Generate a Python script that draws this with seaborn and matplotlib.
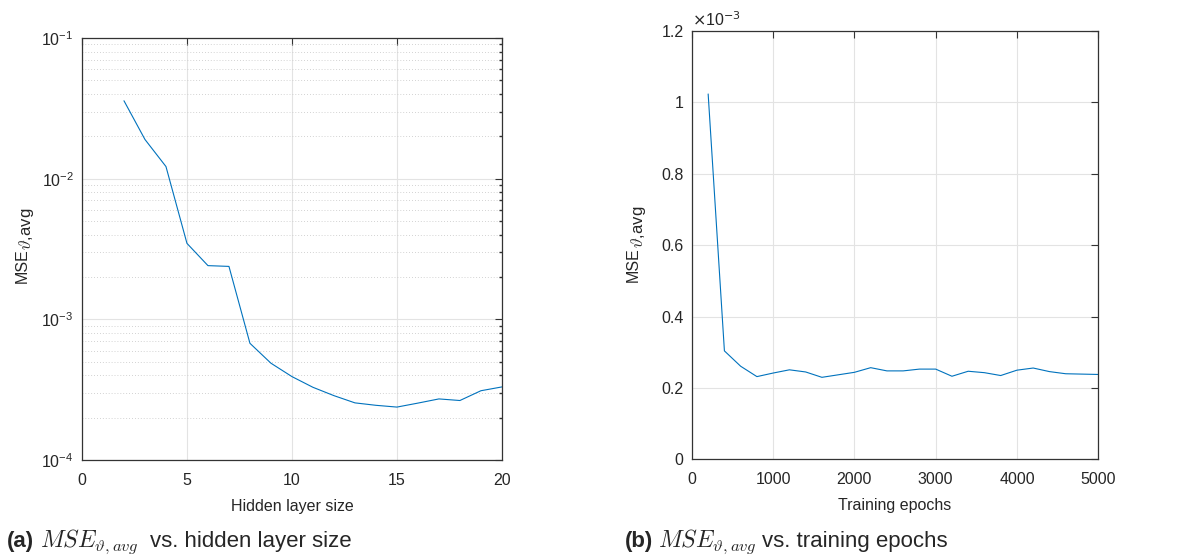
import numpy as np
import pandas as pd
import matplotlib
matplotlib.use("Agg")
import matplotlib.pyplot as plt
import matplotlib.ticker as mticker
from matplotlib.text import Annotation
import seaborn as sns

# ---- data ----
hidden_sizes = [2, 3, 4, 5, 6, 7, 8, 9, 10, 11, 12, 13, 14, 15, 16, 17, 18, 19, 20]
mse_hidden = [0.0358, 0.0190, 0.0122, 0.00347, 0.00241, 0.00238, 0.000676, 0.000488,
              0.000392, 0.000329, 0.000287, 0.000255, 0.000245, 0.000238, 0.000254,
              0.000272, 0.000265, 0.000311, 0.000331]

epochs = [200, 400, 600, 800, 1000, 1200, 1400, 1600, 1800, 2000, 2200, 2400, 2600,
          2800, 3000, 3200, 3400, 3600, 3800, 4000, 4200, 4400, 4600, 4800, 5000]
mse_epochs_e3 = [1.023, 0.304, 0.261, 0.232, 0.242, 0.251, 0.245, 0.230, 0.237, 0.244,
                 0.257, 0.248, 0.248, 0.253, 0.253, 0.233, 0.247, 0.243, 0.235, 0.250,
                 0.256, 0.246, 0.240, 0.239, 0.238]

x_ticks_a = [0, 5, 10, 15, 20]
x_ticks_b = [0, 1000, 2000, 3000, 4000, 5000]
y_ticks_b = [0, 0.2e-3, 0.4e-3, 0.6e-3, 0.8e-3, 1.0e-3, 1.2e-3]

df_a = pd.DataFrame({"hidden": hidden_sizes, "mse": mse_hidden})
df_b = pd.DataFrame({"epochs": epochs, "mse": np.array(mse_epochs_e3) * 1e-3})

# ---- style ----
sns.set_theme(style="white")
txt = "#262626"
grid_c = "#e3e3e3"
line_c = "#0072BD"
plt.rcParams.update({
    "font.family": ["Liberation Sans", "DejaVu Sans"],
    "axes.edgecolor": "#333333",
    "axes.labelcolor": txt,
    "xtick.color": "#333333",
    "ytick.color": "#333333",
    "xtick.labelcolor": txt,
    "ytick.labelcolor": txt,
    "text.color": txt,
    "axes.linewidth": 0.9,
    "xtick.direction": "in",
    "ytick.direction": "in",
    "xtick.major.size": 5,
    "ytick.major.size": 5,
    "xtick.minor.size": 2.5,
    "ytick.minor.size": 2.5,
    "xtick.major.width": 0.8,
    "ytick.major.width": 0.8,
    "axes.unicode_minus": False,
})

fig = plt.figure(figsize=(11.95, 5.59), dpi=100)
ax1 = fig.add_axes([0.0686, 0.177, 0.3514, 0.755])
ax2 = fig.add_axes([0.579, 0.178, 0.340, 0.767])

fs = 11.5


def ylabel_with_sub(ax, xfrac, yfrac):
    ax.set_ylabel("MSE", fontsize=fs)
    ax.yaxis.set_label_coords(xfrac, yfrac)
    sub = Annotation(r"$\vartheta$,avg", xy=(1, 1), xycoords=ax.yaxis.label,
                     xytext=(7, -1), textcoords="offset pixels", rotation=90,
                     ha="right", va="bottom", fontsize=12, math_fontfamily="cm",
                     color=txt, annotation_clip=False)
    fig.add_artist(sub)


# ---- (a) ----
sns.lineplot(data=df_a, x="hidden", y="mse", ax=ax1, color=line_c, linewidth=0.8)
ax1.set_yscale("log")
ax1.set_xlim(0, 20)
ax1.set_ylim(1e-4, 1e-1)
ax1.set_xticks(x_ticks_a)
ax1.yaxis.set_major_locator(mticker.LogLocator(base=10, numticks=10))
ax1.yaxis.set_minor_locator(mticker.LogLocator(base=10, subs=np.arange(2, 10), numticks=20))
ax1.yaxis.set_minor_formatter(mticker.NullFormatter())
ax1.grid(True, which="major", color=grid_c, linewidth=0.8, linestyle="-")
ax1.grid(True, which="minor", axis="y", color="#c4c4c4", linewidth=0.6, linestyle=(0, (1, 2.5)))
ax1.set_axisbelow(True)
ax1.tick_params(which="both", top=True, right=True, labelsize=fs)
ax1.tick_params(axis="x", pad=9)
ax1.tick_params(axis="y", pad=6)
ax1.set_xlabel("Hidden layer size", fontsize=fs, labelpad=8)
ylabel_with_sub(ax1, -0.125, 0.46)
for s in ax1.spines.values():
    s.set_visible(True)

# ---- (b) ----
sns.lineplot(data=df_b, x="epochs", y="mse", ax=ax2, color=line_c, linewidth=0.8)
ax2.set_xlim(0, 5000)
ax2.set_ylim(0, 1.2e-3)
ax2.set_xticks(x_ticks_b)
ax2.set_yticks(y_ticks_b)
ax2.yaxis.set_major_formatter(mticker.FuncFormatter(lambda v, p: f"{v * 1e3:g}"))
ax2.grid(True, which="major", color=grid_c, linewidth=0.8, linestyle="-")
ax2.set_axisbelow(True)
ax2.tick_params(which="both", top=True, right=True, labelsize=fs)
ax2.tick_params(axis="x", pad=9)
ax2.tick_params(axis="y", pad=6)
ax2.set_xlabel("Training epochs", fontsize=fs, labelpad=8)
ylabel_with_sub(ax2, -0.125, 0.455)
ax2.text(0.0, 1.005, r"$\times$10$^{\mathsf{-3}}$", transform=ax2.transAxes, fontsize=fs,
         ha="left", va="bottom", math_fontfamily="dejavusans")
for s in ax2.spines.values():
    s.set_visible(True)

# ---- captions ----
cap_y = 1 - 547 / 559
cap_fs = 16
math_fs = 17
fig.text(7 / 1195, cap_y, "(a)", fontsize=cap_fs, fontweight="bold", ha="left", va="baseline")
fig.text(40 / 1195, cap_y, r"$MSE_{\vartheta,avg}$", fontsize=math_fs,
         ha="left", va="baseline", math_fontfamily="cm")
fig.text(150 / 1195, cap_y, "vs. hidden layer size", fontsize=cap_fs, ha="left", va="baseline")
fig.text(625 / 1195, cap_y, "(b)", fontsize=cap_fs, fontweight="bold", ha="left", va="baseline")
fig.text(658 / 1195, cap_y, r"$MSE_{\vartheta,avg}$", fontsize=math_fs,
         ha="left", va="baseline", math_fontfamily="cm")
fig.text(762 / 1195, cap_y, "vs. training epochs", fontsize=cap_fs, ha="left", va="baseline")

fig.savefig("out.png", dpi=100)
